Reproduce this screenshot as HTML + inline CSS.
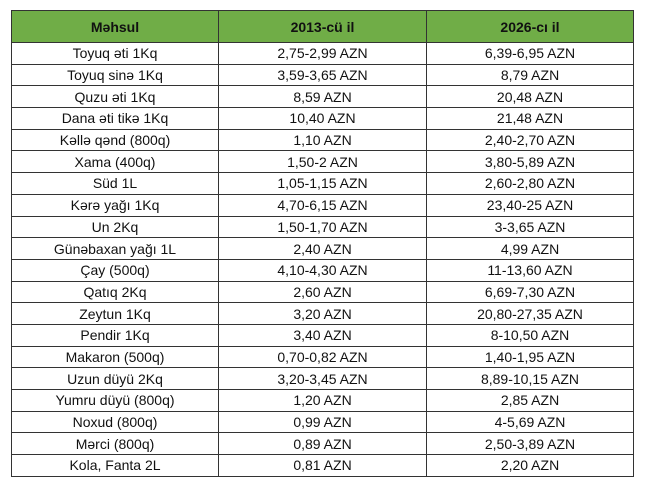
<!DOCTYPE html>
<html><head><style>
body{margin:0;background:#fff;width:650px;height:491px;overflow:hidden}
table{position:absolute;left:11px;top:10px;border-collapse:collapse;font-family:"Liberation Sans",sans-serif;font-size:14px;color:#111}
td,th{border:1px solid #333;text-align:center;padding:0;height:20.7px;line-height:20px}
th{background:#70ad47;height:31px;font-weight:bold;font-size:14px}
</style></head><body>
<table>
<colgroup><col style="width:207px"><col style="width:208px"><col style="width:207px"></colgroup>
<tr><th>Məhsul</th><th>2013-cü il</th><th>2026-cı il</th></tr>
<tr><td>Toyuq əti 1Kq</td><td>2,75-2,99 AZN</td><td>6,39-6,95 AZN</td></tr>
<tr><td>Toyuq sinə 1Kq</td><td>3,59-3,65 AZN</td><td>8,79 AZN</td></tr>
<tr><td>Quzu əti 1Kq</td><td>8,59 AZN</td><td>20,48 AZN</td></tr>
<tr><td>Dana əti tikə 1Kq</td><td>10,40 AZN</td><td>21,48 AZN</td></tr>
<tr><td>Kəllə qənd (800q)</td><td>1,10 AZN</td><td>2,40-2,70 AZN</td></tr>
<tr><td>Xama (400q)</td><td>1,50-2 AZN</td><td>3,80-5,89 AZN</td></tr>
<tr><td>Süd 1L</td><td>1,05-1,15 AZN</td><td>2,60-2,80 AZN</td></tr>
<tr><td>Kərə yağı 1Kq</td><td>4,70-6,15 AZN</td><td>23,40-25 AZN</td></tr>
<tr><td>Un 2Kq</td><td>1,50-1,70 AZN</td><td>3-3,65 AZN</td></tr>
<tr><td>Günəbaxan yağı 1L</td><td>2,40 AZN</td><td>4,99 AZN</td></tr>
<tr><td>Çay (500q)</td><td>4,10-4,30 AZN</td><td>11-13,60 AZN</td></tr>
<tr><td>Qatıq 2Kq</td><td>2,60 AZN</td><td>6,69-7,30 AZN</td></tr>
<tr><td>Zeytun 1Kq</td><td>3,20 AZN</td><td>20,80-27,35 AZN</td></tr>
<tr><td>Pendir 1Kq</td><td>3,40 AZN</td><td>8-10,50 AZN</td></tr>
<tr><td>Makaron (500q)</td><td>0,70-0,82 AZN</td><td>1,40-1,95 AZN</td></tr>
<tr><td>Uzun düyü 2Kq</td><td>3,20-3,45 AZN</td><td>8,89-10,15 AZN</td></tr>
<tr><td>Yumru düyü (800q)</td><td>1,20 AZN</td><td>2,85 AZN</td></tr>
<tr><td>Noxud (800q)</td><td>0,99 AZN</td><td>4-5,69 AZN</td></tr>
<tr><td>Mərci (800q)</td><td>0,89 AZN</td><td>2,50-3,89 AZN</td></tr>
<tr><td>Kola, Fanta 2L</td><td>0,81 AZN</td><td>2,20 AZN</td></tr>
</table>
</body></html>
